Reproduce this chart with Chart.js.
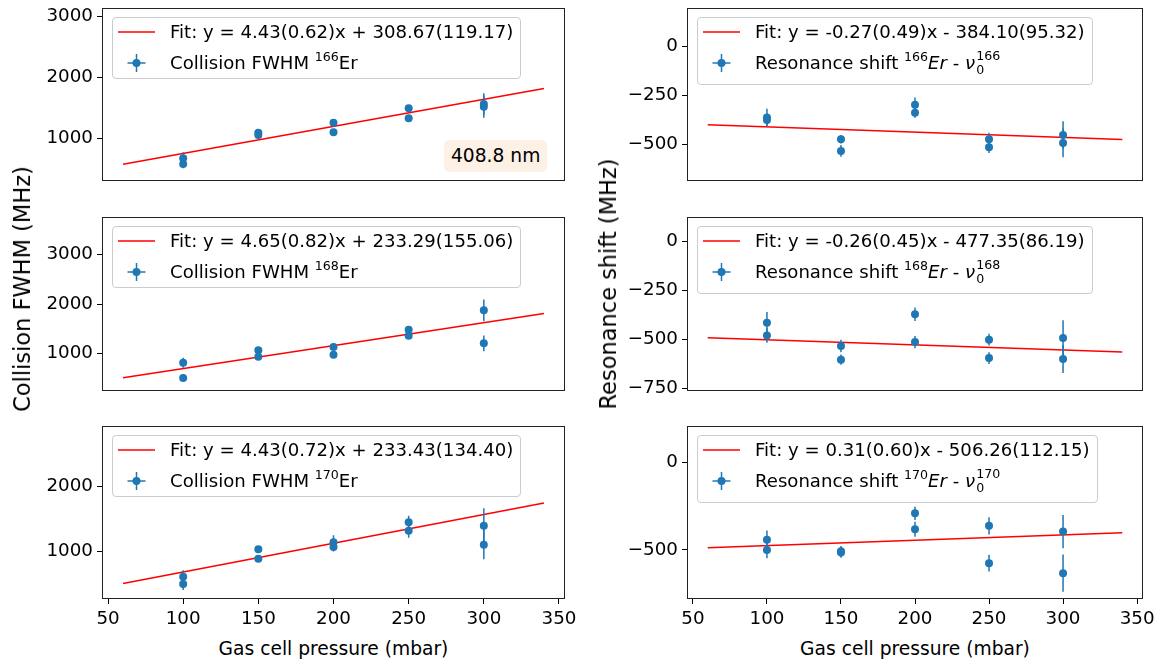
<!DOCTYPE html>
<html>
<head>
<meta charset="utf-8">
<title>Gas cell pressure scan</title>
<script src="https://cdn.jsdelivr.net/npm/chart.js@4.4.1/dist/chart.umd.min.js"></script>
<style>
  html, body { margin: 0; padding: 0; background: #fff; overflow: hidden; }
  body { width: 1160px; height: 666px; position: relative; font-family: 'DejaVu Sans', sans-serif; font-size: 18.1px; color: #000; }
  .panel { position: absolute; }
  .legend { position: absolute; background: rgba(255,255,255,0.8); border: 1px solid #ccc; border-radius: 4px;
            padding: 3px 7px 4px 5px; white-space: nowrap; }
  .legend.tall { padding-bottom: 10px; }
  .legend .row { display: flex; align-items: center; height: 22px; line-height: 22px; }
  .legend .row + .row { margin-top: 8.6px; }
  .legend svg { width: 37px; height: 22px; margin-right: 15px; flex: none; }
  sup { font-size: 12.6px; vertical-align: 8px; line-height: 0; }
  .ss { position: relative; display: inline-block; width: 25px; height: 1px; }
  .ss .sp { position: absolute; left: 1px; bottom: 6px; font-size: 12.6px; line-height: 1; }
  .ss .sb { position: absolute; left: 1px; bottom: -8px; font-size: 12.6px; line-height: 1; }
  .xtitle { position: absolute; transform: translate(-50%, -50%); white-space: nowrap; font-size: 18.67px; }
  .ytitle { position: absolute; transform: translate(-50%, -50%) rotate(-90deg); white-space: nowrap; font-size: 22.5px; }
  .tag { position: absolute; background: #fdf0e4; border-radius: 5px; padding: 2px 7px; line-height: 28px; font-size: 18.67px; }
</style>
</head>
<body>
<script>
// measurement points (mbar) shared by every panel
const pressure    = [100, 100, 150, 150, 200, 200, 250, 250, 300, 300];
const pressureErr = [2, 2, 2, 2, 2, 2, 2, 2, 2, 2];

// collision FWHM (MHz)
const fwhm166    = [673, 579, 1092, 1054, 1255, 1098, 1491, 1327, 1561, 1517];
const fwhm166Err = [100, 70, 60, 40, 50, 40, 50, 40, 175, 180];
const fwhm168    = [818, 509, 1069, 939, 1135, 980, 1485, 1364, 1877, 1210];
const fwhm168Err = [100, 30, 40, 40, 40, 40, 40, 40, 220, 160];
const fwhm170    = [605, 492, 1026, 882, 1134, 1062, 1441, 1313, 1389, 1097];
const fwhm170Err = [100, 90, 50, 50, 110, 70, 100, 110, 270, 225];

// resonance shift (MHz)
const shift166    = [-363, -375, -474, -534, -297, -338, -474, -515, -452, -493];
const shift166Err = [45, 30, 22, 30, 36, 26, 33, 30, 70, 74];
const shift168    = [-416, -481, -535, -605, -373, -515, -503, -597, -494, -602];
const shift168Err = [55, 37, 32, 26, 34, 31, 30, 30, 90, 71];
const shift170    = [-442, -500, -507, -515, -290, -381, -362, -576, -395, -633];
const shift170Err = [53, 47, 30, 30, 38, 43, 49, 48, 95, 107];

// linear fits, panel order: 166 FWHM, 166 shift, 168 FWHM, 168 shift, 170 FWHM, 170 shift
const fitSlope        = [4.43, -0.27, 4.65, -0.26, 4.43, 0.31];
const fitSlopeErr     = [0.62, 0.49, 0.82, 0.45, 0.72, 0.60];
const fitIntercept    = [308.67, -384.10, 233.29, -477.35, 233.43, -506.26];
const fitInterceptErr = [119.17, 95.32, 155.06, 86.19, 134.40, 112.15];
const fitRange        = [60, 340];

const isotopes   = ['166', '168', '170'];
const xTicks     = [50, 100, 150, 200, 250, 300, 350];
const fwhmTicks  = [[1000, 2000, 3000], [1000, 2000, 3000], [1000, 2000]];
const shiftTicks = [[0, -250, -500], [0, -250, -500, -750], [0, -500]];

const fwhmData  = [[fwhm166, fwhm166Err], [fwhm168, fwhm168Err], [fwhm170, fwhm170Err]];
const shiftData = [[shift166, shift166Err], [shift168, shift168Err], [shift170, shift170Err]];

// axis limits per row
const fwhmLimits  = [[302, 3131], [246, 3762], [262, 2923]];
const shiftLimits = [[-688, 198], [-765, 124], [-781, 210]];

// page geometry of the axes boxes
const colEdges = [[102, 565], [687, 1143]];
const rowEdges = [[8, 181], [217, 391], [426, 599]];
const xLimits  = [46, 354];

const BLUE = '#1f77b4';
Chart.defaults.font.family = "'DejaVu Sans', sans-serif";
Chart.defaults.font.size = 18.3;
Chart.defaults.color = '#000';

const errorBars = {
  id: 'errorBars',
  beforeDatasetDraw(chart, args) {
    if (args.index !== 0) return;
    const ds = chart.data.datasets[0];
    const xs = chart.scales.x, ys = chart.scales.y;
    const ctx = chart.ctx;
    ctx.save();
    ctx.strokeStyle = BLUE;
    ctx.lineWidth = 1.5;
    ds.data.forEach((p, i) => {
      const px = xs.getPixelForValue(p.x), py = ys.getPixelForValue(p.y);
      ctx.beginPath();
      ctx.moveTo(px, ys.getPixelForValue(p.y - ds.yErr[i]));
      ctx.lineTo(px, ys.getPixelForValue(p.y + ds.yErr[i]));
      ctx.moveTo(xs.getPixelForValue(p.x - ds.xErr[i]), py);
      ctx.lineTo(xs.getPixelForValue(p.x + ds.xErr[i]), py);
      ctx.stroke();
    });
    ctx.restore();
  }
};

const frame = {
  id: 'frame',
  afterDraw(chart) {
    const a = chart.chartArea, ctx = chart.ctx;
    ctx.save();
    ctx.strokeStyle = '#222';
    ctx.lineWidth = 1;
    ctx.strokeRect(Math.round(a.left) + 0.5, Math.round(a.top) + 0.5,
                   Math.round(a.right - a.left) - 1, Math.round(a.bottom - a.top) - 1);
    ctx.restore();
  }
};

const minus = v => String(v).replace('-', '\u2212');

function fitLabel(k) {
  const b = fitIntercept[k];
  return 'Fit: y = ' + fitSlope[k].toFixed(2) + '(' + fitSlopeErr[k].toFixed(2) + ')x ' +
         (b < 0 ? '- ' : '+ ') + Math.abs(b).toFixed(2) + '(' + fitInterceptErr[k].toFixed(2) + ')';
}

const lineHandle = '<svg viewBox="0 0 37 22"><line x1="0" y1="11" x2="37" y2="11" stroke="red" stroke-width="1.5"/></svg>';
const errHandle = '<svg viewBox="0 0 37 22"><line x1="9.5" y1="11" x2="27.5" y2="11" stroke="' + BLUE +
  '" stroke-width="1.5"/><line x1="18.5" y1="2" x2="18.5" y2="20" stroke="' + BLUE +
  '" stroke-width="1.5"/><circle cx="18.5" cy="11" r="4" fill="' + BLUE + '"/></svg>';

function addPanel(row, col) {
  const k = row * 2 + col;
  const [L, R] = colEdges[col];
  const [T, B] = rowEdges[row];
  const bottomRow = row === rowEdges.length - 1;
  const padR = col === 0 ? 24 : 17;
  const w = R - L + 80 + padR;
  const h = B - T + 16 + (bottomRow ? 30 : 16);

  const [yVals, yErr] = col === 0 ? fwhmData[row] : shiftData[row];
  const [yMin, yMax] = col === 0 ? fwhmLimits[row] : shiftLimits[row];
  const ticks = col === 0 ? fwhmTicks[row] : shiftTicks[row];

  const wrap = document.createElement('div');
  wrap.className = 'panel';
  wrap.style.left = (L - 80) + 'px';
  wrap.style.top = (T - 16) + 'px';
  const canvas = document.createElement('canvas');
  canvas.width = w; canvas.height = h;
  canvas.style.width = w + 'px'; canvas.style.height = h + 'px';
  wrap.appendChild(canvas);
  document.body.appendChild(wrap);

  new Chart(canvas, {
    type: 'scatter',
    data: {
      datasets: [
        {
          data: pressure.map((x, i) => ({ x: x, y: yVals[i] })),
          yErr: yErr,
          xErr: pressureErr,
          pointRadius: 4,
          pointHoverRadius: 4,
          pointBackgroundColor: BLUE,
          pointBorderWidth: 0
        },
        {
          data: fitRange.map(x => ({ x: x, y: fitSlope[k] * x + fitIntercept[k] })),
          showLine: true,
          borderColor: 'red',
          borderWidth: 1.5,
          pointRadius: 0,
          pointHoverRadius: 0
        }
      ]
    },
    options: {
      responsive: false,
      devicePixelRatio: 1,
      animation: false,
      events: [],
      layout: { padding: { left: 0, top: 16, right: padR, bottom: bottomRow ? 0 : 16 } },
      plugins: { legend: { display: false }, tooltip: { enabled: false } },
      scales: {
        x: {
          type: 'linear',
          min: xLimits[0], max: xLimits[1],
          display: bottomRow,
          afterBuildTicks: s => { s.ticks = xTicks.map(v => ({ value: v })); },
          afterFit: s => { s.height = bottomRow ? 30 : 0; },
          border: { display: false },
          grid: { drawOnChartArea: false, drawTicks: true, tickLength: 5, color: '#000' },
          ticks: { padding: 4, color: '#000', maxRotation: 0 }
        },
        y: {
          type: 'linear',
          min: yMin, max: yMax,
          afterBuildTicks: s => { s.ticks = ticks.map(v => ({ value: v })); },
          afterFit: s => { s.width = 80; },
          border: { display: false },
          grid: { drawOnChartArea: false, drawTicks: true, tickLength: 5, color: '#000' },
          ticks: { padding: 4, color: '#000', callback: minus }
        }
      }
    },
    plugins: [errorBars, frame]
  });

  // legend box, upper left of the axes
  const lg = document.createElement('div');
  lg.className = 'legend' + (col === 1 ? ' tall' : '');
  lg.style.left = (L + 10) + 'px';
  lg.style.top = (T + 9) + 'px';
  const iso = isotopes[row];
  const dataLabel = col === 0
    ? 'Collision FWHM <sup>' + iso + '</sup>Er'
    : 'Resonance shift <sup>' + iso + '</sup><i>Er</i> - <i>\u03bd</i><span class="ss"><span class="sp">' +
      iso + '</span><span class="sb">0</span></span>';
  lg.innerHTML = '<div class="row">' + lineHandle + '<span>' + fitLabel(k) + '</span></div>' +
                 '<div class="row">' + errHandle + '<span>' + dataLabel + '</span></div>';
  document.body.appendChild(lg);
}

for (let r = 0; r < rowEdges.length; r++) {
  addPanel(r, 0);
  addPanel(r, 1);
}

// wavelength tag in the first panel
const tag = document.createElement('div');
tag.className = 'tag';
tag.textContent = '408.8 nm';
tag.style.left = '444px';
tag.style.top = '140px';
document.body.appendChild(tag);

// axis titles
function addTitle(cls, text, x, y) {
  const d = document.createElement('div');
  d.className = cls;
  d.textContent = text;
  d.style.left = x + 'px';
  d.style.top = y + 'px';
  document.body.appendChild(d);
}
addTitle('xtitle', 'Gas cell pressure (mbar)', (colEdges[0][0] + colEdges[0][1]) / 2, 648);
addTitle('xtitle', 'Gas cell pressure (mbar)', (colEdges[1][0] + colEdges[1][1]) / 2, 648);
addTitle('ytitle', 'Collision FWHM (MHz)', 22, 289);
addTitle('ytitle', 'Resonance shift (MHz)', 608, 284);
</script>
</body>
</html>
